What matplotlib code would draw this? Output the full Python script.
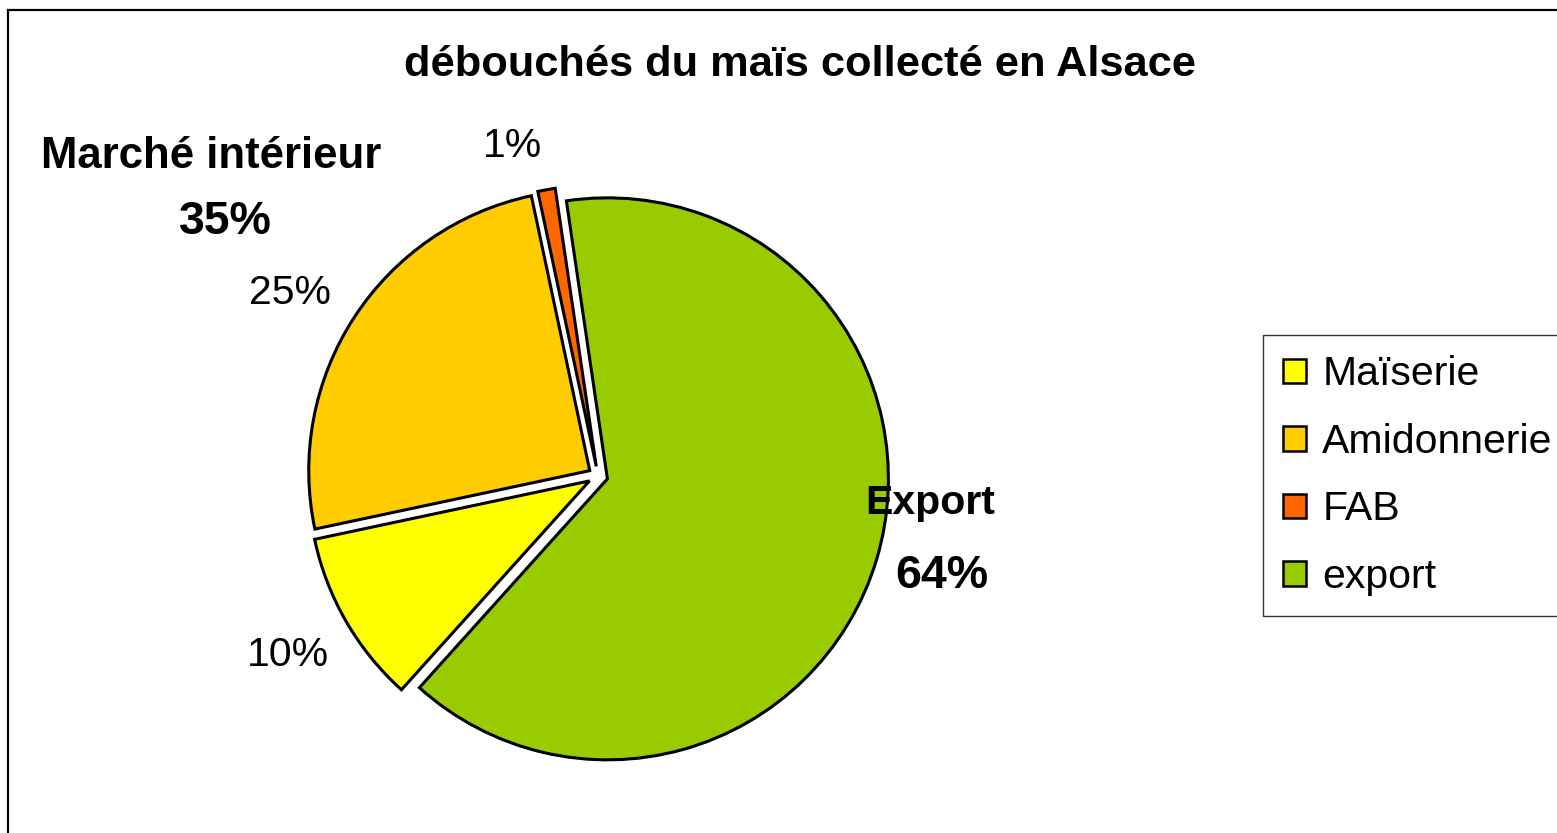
import matplotlib.pyplot as plt
from matplotlib.patches import Patch, Rectangle
import numpy as np

plt.rcParams['font.family'] = ['Liberation Sans', 'DejaVu Sans']

# données
categories = ['Maïserie', 'Amidonnerie', 'FAB', 'export']
parts = [10, 25, 1, 64]
couleurs = ['#FFFF00', '#FFCC00', '#FF6600', '#99CC00']
titre = 'débouchés du maïs collecté en Alsace'

W, H = 1557, 833
fig = plt.figure(figsize=(W / 100, H / 100), dpi=100)

# cadre du graphique
fig.patches.append(Rectangle((8 / W, -0.1), 1.2, 1 - 10 / H + 0.1, transform=fig.transFigure,
                             fill=False, edgecolor='black', linewidth=1.6))

# axes placés pour que le centre du camembert tombe au bon endroit
cx, cy, r = 598, 476, 281
ax = fig.add_axes([(cx - 1.2 * r) / W, 1 - (cy + 1.2 * r) / H, 2.4 * r / W, 2.4 * r / H])

wedges, _ = ax.pie(parts, colors=couleurs, startangle=228, counterclock=False,
                   explode=[0.035] * 4,
                   wedgeprops=dict(edgecolor='black', linewidth=2.2))
# pie() remet ses propres limites, on les fixe après
ax.set_xlim(-1.2, 1.2)
ax.set_ylim(-1.2, 1.2)
ax.axis('off')

# étiquettes de pourcentage (sauf export)
pos_labels = {0: (-1.103, -0.637), 1: (-1.096, 0.651), 2: (-0.306, 1.174)}
for i, (x, y) in pos_labels.items():
    ax.text(x, y, f'{parts[i]}%', ha='center', va='center', fontsize=29.5, clip_on=False)

fig.text(800 / W, 1 - 65 / H, titre, ha='center', va='center', fontsize=31.2, fontweight='bold')
fig.text(211 / W, 1 - 156 / H, 'Marché intérieur', ha='center', va='center',
         fontsize=31.5, fontweight='bold')
fig.text(225 / W, 1 - 222 / H, f'{parts[0] + parts[1]}%', ha='center', va='center',
         fontsize=33.5, fontweight='bold')
fig.text(930 / W, 1 - 503 / H, 'Export', ha='center', va='center', fontsize=29.5, fontweight='bold')
fig.text(942 / W, 1 - 576 / H, f'{parts[3]}%', ha='center', va='center',
         fontsize=33.5, fontweight='bold')

handles = [Patch(facecolor=c, edgecolor='black', linewidth=1.8) for c in couleurs]
leg = fig.legend(handles, categories, loc='upper left', bbox_to_anchor=(1263 / W, 1 - 335 / H),
                 fontsize=29.5, frameon=True, fancybox=False, handlelength=0.55, handleheight=0.55,
                 handletextpad=0.4, labelspacing=0.72, borderpad=0.5, borderaxespad=0)
leg.get_frame().set_edgecolor('black')
leg.get_frame().set_linewidth(1.0)

fig.savefig('out.png', dpi=100)
